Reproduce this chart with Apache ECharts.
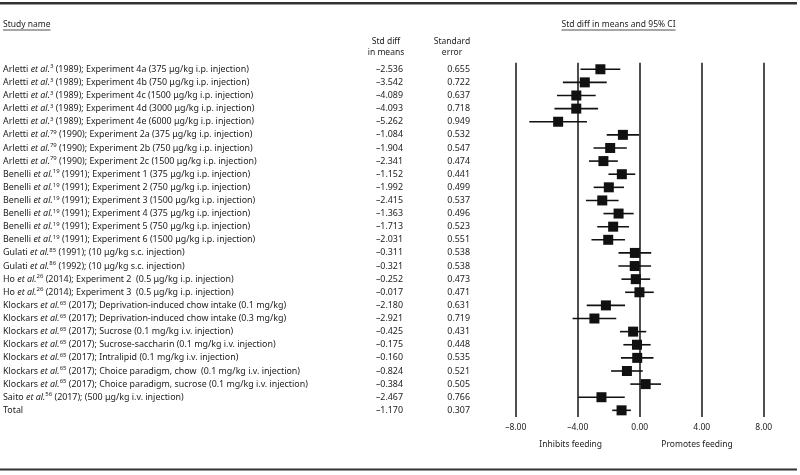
<!DOCTYPE html>
<html>
<head>
<meta charset="utf-8">
<script src="https://cdn.jsdelivr.net/npm/echarts@6/dist/echarts.min.js"></script>
<style>html,body{margin:0;padding:0;background:#fff}#c{width:800px;height:475px}</style>
</head>
<body>
<div id="c"></div>
<script>
// ---- data ----
var authors = ['Arletti','Arletti','Arletti','Arletti','Arletti','Arletti','Arletti','Arletti',
  'Benelli','Benelli','Benelli','Benelli','Benelli','Benelli','Gulati','Gulati','Ho','Ho',
  'Klockars','Klockars','Klockars','Klockars','Klockars','Klockars','Klockars','Saito','Total'];
var refs = ['3','3','3','3','3','79','79','79','19','19','19','19','19','19','85','86','26','26',
  '65','65','65','65','65','65','65','56',''];
var years = ['1989','1989','1989','1989','1989','1990','1990','1990','1991','1991','1991','1991','1991','1991',
  '1991','1992','2014','2014','2017','2017','2017','2017','2017','2017','2017','2017',''];
var details = [
  'Experiment 4a (375 μg/kg i.p. injection)',
  'Experiment 4b (750 μg/kg i.p. injection)',
  'Experiment 4c (1500 μg/kg i.p. injection)',
  'Experiment 4d (3000 μg/kg i.p. injection)',
  'Experiment 4e (6000 μg/kg i.p. injection)',
  'Experiment 2a (375 μg/kg i.p. injection)',
  'Experiment 2b (750 μg/kg i.p. injection)',
  'Experiment 2c (1500 μg/kg i.p. injection)',
  'Experiment 1 (375 μg/kg i.p. injection)',
  'Experiment 2 (750 μg/kg i.p. injection)',
  'Experiment 3 (1500 μg/kg i.p. injection)',
  'Experiment 4 (375 μg/kg i.p. injection)',
  'Experiment 5 (750 μg/kg i.p. injection)',
  'Experiment 6 (1500 μg/kg i.p. injection)',
  '(10 μg/kg s.c. injection)',
  '(10 μg/kg s.c. injection)',
  'Experiment 2  (0.5 μg/kg i.p. injection)',
  'Experiment 3  (0.5 μg/kg i.p. injection)',
  'Deprivation-induced chow intake (0.1 mg/kg)',
  'Deprivation-induced chow intake (0.3 mg/kg)',
  'Sucrose (0.1 mg/kg i.v. injection)',
  'Sucrose-saccharin (0.1 mg/kg i.v. injection)',
  'Intralipid (0.1 mg/kg i.v. injection)',
  'Choice paradigm, chow  (0.1 mg/kg i.v. injection)',
  'Choice paradigm, sucrose (0.1 mg/kg i.v. injection)',
  '(500 μg/kg i.v. injection)',
  ''];
var stdDiff = [-2.536,-3.542,-4.089,-4.093,-5.262,-1.084,-1.904,-2.341,-1.152,-1.992,-2.415,-1.363,-1.713,-2.031,
  -0.311,-0.321,-0.252,-0.017,-2.180,-2.921,-0.425,-0.175,-0.160,-0.824,-0.384,-2.467,-1.170];
var stdErr = [0.655,0.722,0.637,0.718,0.949,0.532,0.547,0.474,0.441,0.499,0.537,0.496,0.523,0.551,
  0.538,0.538,0.473,0.471,0.631,0.719,0.431,0.448,0.535,0.521,0.505,0.766,0.307];
// marker positions as drawn in the figure (the sucrose choice-paradigm marker is drawn on the positive side)
var plottedMean = [-2.536,-3.542,-4.089,-4.093,-5.262,-1.084,-1.904,-2.341,-1.152,-1.992,-2.415,-1.363,-1.713,-2.031,
  -0.311,-0.321,-0.252,-0.017,-2.180,-2.921,-0.425,-0.175,-0.160,-0.824,0.384,-2.467,-1.170];
var xTicks = [-8,-4,0,4,8];

// ---- chart ----
var FONT = 'Noto Sans';
var FS = 8.5;
var FSN = 8.9;
var TXT = '#222';
var cats = authors.map(function(a,i){return 'r'+i;});
function fmtNum(v, d){ var s = Math.abs(v).toFixed(d); return (v<0?'\u2013':'')+s; }

function measure(text, size){
  var c = document.createElement('canvas').getContext('2d');
  c.font = size+'px "'+FONT+'"';
  return c.measureText(text).width;
}

var gridLeft = 515.7, gridRight = 36.3, gridTop = 62.7, gridH = 354.2;

var chart = echarts.init(document.getElementById('c'), null, {renderer:'canvas'});

var scatterData = plottedMean.map(function(m,i){return [m, cats[i]];});
var ciData = plottedMean.map(function(m,i){return [m-1.96*stdErr[i], m+1.96*stdErr[i], i];});

var h1 = 'Study name', h2 = 'Std diff in means and 95% CI';
var w1 = measure(h1, FS), w2 = measure(h2, FS);
var h2cx = 618.5;

function catAxis(extra){
  var a = {type:'category', data:cats, inverse:true, position:'left', offset:0,
    axisLine:{show:false}, axisTick:{show:false}, splitLine:{show:false}};
  for (var k in extra) a[k] = extra[k];
  return a;
}

var option = {
  animation:false,
  textStyle:{fontFamily:FONT, color:TXT},
  grid:{left:gridLeft, right:gridRight, top:gridTop, height:gridH, containLabel:false, outerBoundsMode:'none'},
  xAxis:{type:'value', min:-8, max:8, interval:4,
    axisLine:{show:false}, axisTick:{show:false},
    splitLine:{show:true, lineStyle:{color:'#222', width:1.6}},
    axisLabel:{margin:6, fontSize:FS, color:TXT, fontFamily:FONT,
      formatter:function(v){return xTicks.indexOf(v)>=0 ? fmtNum(v,2) : '';}}
  },
  yAxis:[
    catAxis({axisLabel:{align:'left', margin:gridLeft-3, interval:0, fontFamily:FONT,
        formatter:function(v,i){
          if(!refs[i]) return '{n|'+authors[i]+'}';
          return '{n|'+authors[i]+' }{i|et al.}{s|'+refs[i]+'}{n| ('+years[i]+'); '+details[i]+'}';
        },
        rich:{
          n:{fontSize:FSN, color:TXT, fontFamily:FONT, lineHeight:11},
          i:{fontSize:FSN, color:TXT, fontFamily:FONT, fontStyle:'italic', lineHeight:11},
          s:{fontSize:6, color:TXT, fontFamily:FONT, verticalAlign:'top', lineHeight:8}
        }}}),
    catAxis({axisLabel:{align:'right', margin:gridLeft-403, interval:0, fontSize:FSN, color:TXT, fontFamily:FONT,
        formatter:function(v,i){return fmtNum(stdDiff[i],3);}}}),
    catAxis({axisLabel:{align:'right', margin:gridLeft-470, interval:0, fontSize:FSN, color:TXT, fontFamily:FONT,
        formatter:function(v,i){return stdErr[i].toFixed(3);}}})
  ],
  series:[
    {type:'custom', yAxisIndex:0, data:ciData, silent:true,
      renderItem:function(params, api){
        var idx = api.value(2);
        var a = api.coord([api.value(0), cats[idx]]);
        var b = api.coord([api.value(1), cats[idx]]);
        return {type:'line', shape:{x1:a[0], y1:a[1], x2:b[0], y2:b[1]}, style:{stroke:'#111', lineWidth:1.6}};
      }
    },
    {type:'scatter', yAxisIndex:0, data:scatterData, symbol:'rect', symbolSize:10, silent:true,
      itemStyle:{color:'#111', opacity:1}}
  ],
  graphic:[
    {type:'rect', shape:{x:0, y:2, width:797, height:2.5}, style:{fill:'#333'}},
    {type:'rect', shape:{x:0, y:468.5, width:797, height:2}, style:{fill:'#333'}},
    {type:'text', x:3, y:25, style:{text:h1, fontSize:FS, fill:TXT, fontFamily:FONT, verticalAlign:'middle'}},
    {type:'line', shape:{x1:3, y1:30, x2:3+w1, y2:30}, style:{stroke:TXT, lineWidth:0.8}},
    {type:'text', x:h2cx, y:25, style:{text:h2, fontSize:FS, fill:TXT, fontFamily:FONT, align:'center', verticalAlign:'middle'}},
    {type:'line', shape:{x1:h2cx-w2/2, y1:30, x2:h2cx+w2/2, y2:30}, style:{stroke:TXT, lineWidth:0.8}},
    {type:'text', x:386, y:41.5, style:{text:'Std diff', fontSize:FS, fill:TXT, fontFamily:FONT, align:'center', verticalAlign:'middle'}},
    {type:'text', x:386, y:52.5, style:{text:'in means', fontSize:FS, fill:TXT, fontFamily:FONT, align:'center', verticalAlign:'middle'}},
    {type:'text', x:452, y:41.5, style:{text:'Standard', fontSize:FS, fill:TXT, fontFamily:FONT, align:'center', verticalAlign:'middle'}},
    {type:'text', x:452, y:52.5, style:{text:'error', fontSize:FS, fill:TXT, fontFamily:FONT, align:'center', verticalAlign:'middle'}},
    {type:'text', x:570.7, y:445, style:{text:'Inhibits feeding', fontSize:FS, fill:TXT, fontFamily:FONT, align:'center', verticalAlign:'middle'}},
    {type:'text', x:697, y:445, style:{text:'Promotes feeding', fontSize:FS, fill:TXT, fontFamily:FONT, align:'center', verticalAlign:'middle'}}
  ]
};
chart.setOption(option);
</script>
</body>
</html>
